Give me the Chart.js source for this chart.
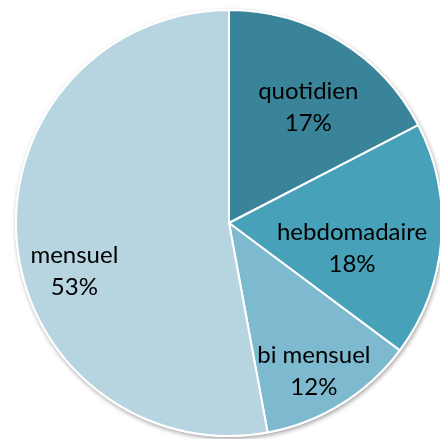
<!DOCTYPE html>
<html>
<head>
<meta charset="utf-8">
<script src="https://cdn.jsdelivr.net/npm/chart.js@4"></script>
<style>
  html, body { margin: 0; padding: 0; background: #fff; overflow: hidden; }
  #wrap { position: absolute; left: 0; top: 0; width: 460px; height: 450px; }
</style>
</head>
<body>
<div id="wrap"><canvas id="pie"></canvas></div>
<script>
// data
const categories = ["quotidien", "hebdomadaire", "bi mensuel", "mensuel"];
const shares = [17.4, 17.8, 11.9, 52.9];
const colors = ["#3a8499", "#47a1b9", "#7db9cf", "#b7d5e1"];

// where each label sits inside its slice (fraction of radius, angle nudge in deg)
const labelPos = [
  { r: 0.66, nudge: 3 },
  { r: 0.59, nudge: 7 },
  { r: 0.80, nudge: 2 },
  { r: 0.76, nudge: -12 },
];

const pieShadow = {
  id: "pieShadow",
  beforeDatasetsDraw(chart) {
    const arc = chart.getDatasetMeta(0).data[0];
    if (!arc) return;
    const ctx = chart.ctx;
    ctx.save();
    ctx.shadowColor = "rgba(0,0,0,0.35)";
    ctx.shadowBlur = 4;
    ctx.shadowOffsetX = 1;
    ctx.shadowOffsetY = 2;
    ctx.fillStyle = "#ffffff";
    ctx.beginPath();
    ctx.arc(arc.x, arc.y, arc.outerRadius + 1, 0, Math.PI * 2);
    ctx.fill();
    ctx.restore();
  },
};

const sliceLabels = {
  id: "sliceLabels",
  afterDatasetsDraw(chart) {
    const ctx = chart.ctx;
    const total = shares.reduce((a, b) => a + b, 0);
    ctx.save();
    ctx.font = "24px Lato";
    ctx.fillStyle = "#000";
    ctx.textAlign = "center";
    ctx.textBaseline = "middle";
    chart.getDatasetMeta(0).data.forEach((arc, i) => {
      const p = labelPos[i];
      const mid = (arc.startAngle + arc.endAngle) / 2 + (p.nudge * Math.PI) / 180;
      const x = arc.x + Math.cos(mid) * arc.outerRadius * p.r;
      const y = arc.y + Math.sin(mid) * arc.outerRadius * p.r;
      const pct = Math.round((shares[i] / total) * 100) + "%";
      ctx.fillText(categories[i], x, y - 16);
      ctx.fillText(pct, x, y + 16);
    });
    ctx.restore();
  },
};

new Chart(document.getElementById("pie"), {
  type: "pie",
  data: {
    labels: categories,
    datasets: [
      {
        data: shares,
        backgroundColor: colors,
        borderColor: "#ffffff",
        borderWidth: 2,
      },
    ],
  },
  options: {
    responsive: true,
    maintainAspectRatio: false,
    animation: false,
    layout: { padding: { left: 15, top: 9, right: 17, bottom: 13 } },
    plugins: { legend: { display: false }, tooltip: { enabled: false } },
  },
  plugins: [pieShadow, sliceLabels],
});
</script>
</body>
</html>
